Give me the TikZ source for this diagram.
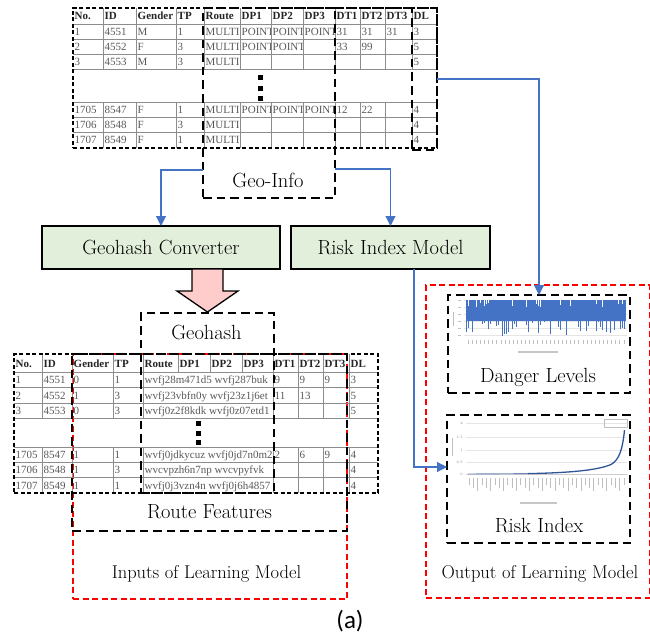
\documentclass[tikz,border=0pt]{standalone}
\usepackage{fontspec}
\newfontfamily\tabfont{Liberation Serif}
\newfontfamily\capfont{Carlito}
\usetikzlibrary{arrows.meta}
\definecolor{connblue}{HTML}{4472C4}
\definecolor{barblue}{HTML}{4472C4}
\definecolor{curveblue}{HTML}{2F5597}
\definecolor{boxgreen}{HTML}{E2EFDA}
\definecolor{arrowpink}{HTML}{FFCCCC}
\definecolor{gridgray}{HTML}{8C8C8C}
\definecolor{celltext}{HTML}{595959}
\begin{document}
\begin{tikzpicture}[x=1pt,y=-1pt,
  box/.style={rectangle, inner sep=0pt, outer sep=0pt},
  thickdash/.style={draw=black, line width=2.8pt, dash pattern=on 8.5pt off 5pt},
  thindash/.style={draw=black, line width=1.2pt, dash pattern=on 4pt off 2.5pt},
  reddash/.style={draw=red, line width=1.5pt, dash pattern=on 6pt off 3.5pt},
  gridline/.style={draw=gridgray, line width=0.7pt},
  connarrow/.style={draw=connblue, line width=1.1pt, -{Triangle[length=10pt,width=10pt]}},
  greenbox/.style={box, draw=black, line width=1.4pt, fill=boxgreen, font=\fontsize{20.5}{24}\selectfont},
  lbl/.style={inner sep=0pt, font=\fontsize{20.5}{24}\selectfont},
  lblsmall/.style={inner sep=0pt, font=\fontsize{18.5}{22}\selectfont},
  hdr/.style={inner sep=0pt, anchor=base west, font=\tabfont\fontsize{11}{12}\selectfont\bfseries, text=black!85},
  dat/.style={inner sep=0pt, anchor=base west, font=\tabfont\fontsize{11}{12}\selectfont, text=celltext},
  tiny/.style={inner sep=0pt, font=\fontsize{3.5}{4}\selectfont, text=gray}
]
\useasboundingbox (0,0) rectangle (650,642);

% ---------- red dashed frames ----------
\node[box, reddash, minimum width=274pt, minimum height=245pt] (inputs) at (210,476.5) {};
\node[box, reddash, minimum width=223.5pt, minimum height=313pt] (output) at (537.75,441.5) {};

% ---------- top table ----------
\def\TX{{73,103,136,176,204,240,271,303,335,360,385,412,437}}
\foreach \yy in {24,39,54,69,102,117,132} \draw[gridline] (73,\yy) -- (437,\yy);
\foreach \xx in {103,136,176,204,240,271,303,335,360,385,412} {
  \draw[gridline] (\xx,8) -- (\xx,69);
  \draw[gridline] (\xx,102) -- (\xx,148);
}
\foreach \t [count=\c from 0] in {No.,ID,Gender,TP,Route,DP1,DP2,DP3,DT1,DT2,DT3,DL} {
  \pgfmathsetmacro\xa{\TX[\c]}
  \pgfmathsetmacro\xb{\TX[\c+1]}
  \begin{scope}
    \clip (\xa,8.5) rectangle ({\xb-0.4},23.5);
    \node[hdr] (th-\c) at ({\xa+1.5},20) {\t};
  \end{scope}
}
\foreach \yy/\row [count=\r] in {
  31.5/{1,4551,M,1,MULTI,POINT,POINT,POINT,31,31,31,3},
  46.5/{2,4552,F,3,MULTI,POINT,POINT,,33,99,,5},
  61.5/{3,4553,M,3,MULTI,,,,,,,5},
  109.5/{1705,8547,F,1,MULTI,POINT,POINT,POINT,12,22,,4},
  124.5/{1706,8548,F,3,MULTI,,,,,,,4},
  139.5/{1707,8549,F,1,MULTI,,,,,,,4}} {
  \foreach \t [count=\c from 0] in \row {
    \pgfmathsetmacro\xa{\TX[\c]}
    \pgfmathsetmacro\xb{\TX[\c+1]}
    \begin{scope}
      \clip (\xa,{\yy-7}) rectangle ({\xb-0.4},{\yy+7});
      \node[dat] (td-\r-\c) at ({\xa+1.5},{\yy+4}) {\t};
    \end{scope}
  }
}
\foreach \yy in {75,85.5,96} \fill (257.5,\yy) rectangle +(5,5);
\node[box, thindash, minimum width=364pt, minimum height=140pt] (toptable) at (255,78) {};

% ---------- bottom table ----------
\def\BX{{14,42,72,113,143,178,210,242,273,298,323,349,378}}
\def\BD{{14,42,72,113,143,273,298,323,349,378}}
\foreach \yy in {372,387,403,418,447,462,477} \draw[gridline] (14,\yy) -- (378,\yy);
\foreach \xx in {42,72,113,143,178,210,242,273,298,323,349} \draw[gridline] (\xx,354) -- (\xx,372);
\foreach \xx in {42,72,113,143,273,298,323,349} {
  \draw[gridline] (\xx,372) -- (\xx,418);
  \draw[gridline] (\xx,447) -- (\xx,493);
}
\foreach \t [count=\c from 0] in {No.,ID,Gender,TP,Route,DP1,DP2,DP3,DT1,DT2,DT3,DL} {
  \pgfmathsetmacro\xa{\BX[\c]}
  \pgfmathsetmacro\xb{\BX[\c+1]}
  \begin{scope}
    \clip (\xa,354.5) rectangle ({\xb-0.4},371.5);
    \node[hdr] (bh-\c) at ({\xa+1.5},367) {\t};
  \end{scope}
}
\foreach \yy/\row [count=\r] in {
  379.5/{1,4551,0,1,wvfj28m471d5 wvfj287buk,9,9,9,3},
  395/{2,4552,1,3,wvfj23vbfn0y wvfj23z1j6et,11,13,,5},
  410.5/{3,4553,0,3,wvfj0z2f8kdk wvfj0z07etd1,,,,5},
  454.5/{1705,8547,1,1,wvfj0jdkycuz wvfj0jd7n0m2,2,6,9,4},
  469.5/{1706,8548,1,3,wvcvpzh6n7np wvcvpyfvk,,,,4},
  485/{1707,8549,1,1,wvfj0j3vzn4n wvfj0j6h4857,,,,4}} {
  \foreach \t [count=\c from 0] in \row {
    \pgfmathsetmacro\xa{\BD[\c]}
    \pgfmathsetmacro\xb{\BD[\c+1]}
    \begin{scope}
      \clip (\xa,{\yy-7}) rectangle ({\xb-0.4},{\yy+7});
      \node[dat] (bd-\r-\c) at ({\xa+1.5},{\yy+4}) {\t};
    \end{scope}
  }
}
\foreach \yy in {421,430.5,440} \fill (195.5,\yy) rectangle +(5,5);
\node[box, thindash, minimum width=364pt, minimum height=139pt] (bottable) at (196,423.5) {};

% ---------- thick dashed boxes ----------
\node[box, thickdash, minimum width=132pt, minimum height=190pt] (geo) at (269,103) {};
\node[box, thickdash, minimum width=25pt, minimum height=142pt] (dlbox) at (424.5,79) {};
\draw[thickdash] (geo.north east) -- (dlbox.north west);
\node[lbl, anchor=base] (geolbl) at (268,187) {Geo-Info};

\node[box, thickdash, minimum width=133pt, minimum height=180pt] (geohash) at (207.5,403) {};
\node[lbl, anchor=base] (geohashlbl) at (206.5,339) {Geohash};
\node[box, thickdash, minimum width=275pt, minimum height=177pt] (route) at (209.5,442.5) {};
\node[lbl, anchor=base] (routelbl) at (209.5,518) {Route Features};
\node[lblsmall, anchor=base] (inputslbl) at (206.5,578) {Inputs of Learning Model};

% ---------- green boxes ----------
\node[greenbox, minimum width=238pt, minimum height=43pt] (conv) at (161,247.5) {Geohash Converter};
\node[greenbox, minimum width=199pt, minimum height=43pt] (risk) at (390.5,247.5) {Risk Index Model};

% pink block arrow
\filldraw[draw=black, line width=1.3pt, fill=arrowpink, line join=miter]
  (192,269) -- (223,269) -- (223,291) -- (238,291) -- (207.5,312) -- (177,291) -- (192,291) -- cycle;

% ---------- danger levels chart ----------
\foreach \yy in {300,307,314,321,328,335} \draw[gray!20, line width=0.4pt] (464,\yy) -- (627,\yy);
\fill[barblue] (466,300) rectangle (626,321);
\pgfmathsetseed{11}
\foreach \i in {0,...,79} {
  \pgfmathsetmacro\xx{466.5+\i*2}
  \pgfmathsetmacro\ra{rnd}
  \pgfmathsetmacro\rb{rnd}
  \pgfmathsetmacro\rc{rnd}
  \pgfmathsetmacro\rd{rnd}
  \ifdim\ra pt<0.22pt \draw[white, line width=0.8pt] (\xx,299.5) -- (\xx,{303+\rb*5}); \fi
  \ifdim\rc pt<0.5pt \draw[barblue, line width=1pt] (\xx,320) -- (\xx,{322+\rd*15}); \fi
}
\foreach \yy in {300,307,314,321,328,335} \draw[gray!50, line width=0.7pt] (458,\yy) -- (461,\yy);
\draw[gray!50, line width=1pt] (453,312) -- (453,326);
\foreach \i in {0,...,38} \draw[gray!50, line width=0.6pt] ({468+\i*4.1},340) -- ++(0,4);
\draw[gray!45, line width=1.3pt] (518,352) -- (558,352);
\node[box, thickdash, minimum width=182pt, minimum height=98pt] (danger) at (539,344) {};
\node[lbl, anchor=base] (dangerlbl) at (538,382) {Danger Levels};

% ---------- risk index chart ----------
\foreach \yy in {423,437,450,462} \draw[gray!20, line width=0.4pt] (466,\yy) -- (627,\yy);
\draw[gray!40, line width=0.5pt] (466,474) -- (627,474);
\foreach \v/\yy [count=\k] in {2/423,1.5/437,1/450,0.5/462,0/474}
  \node[tiny, anchor=east] (ry-\k) at (463,\yy) {\v};
\draw[gray!50, line width=1pt] (452,438) -- (452,456);
\draw[curveblue!70, line width=0.9pt] (468,474) -- (528,473.6);
\draw[curveblue, line width=1.3pt] (528,473.6) .. controls (572,472.8) and (598,470) .. (611,464.5)
  .. controls (619,460) and (622.5,450) .. (624.5,430);
\draw[gray!50, line width=0.5pt] (604,419) rectangle (627,427);
\foreach \i in {0,...,36} \draw[gray!50, line width=0.6pt] ({469+\i*4.3},478) -- ++(0,{7+mod(\i,3)*3});
\draw[gray!45, line width=1.3pt] (520,503) -- (557,503);
\node[box, thickdash, minimum width=183pt, minimum height=128pt] (riskidx) at (538.5,479) {};
\node[lbl, anchor=base] (riskidxlbl) at (539,532) {Risk Index};
\node[lblsmall, anchor=base] (outputlbl) at (540,578) {Output of Learning Model};

% ---------- connectors ----------
\draw[connarrow] (geo.west |- 0,170) -| (conv.north);
\draw[connarrow] (geo.east |- 0,169) -| (risk.north);
\draw[connarrow] (toptable.east |- 0,79) -| (danger.north);
\draw[connarrow] (risk.south -| 414,0) |- (riskidx.west |- 0,467);

% caption
\node[inner sep=0pt, anchor=base, font=\capfont\fontsize{25}{30}\selectfont] (cap) at (350,628) {(a)};
\end{tikzpicture}
\end{document}
